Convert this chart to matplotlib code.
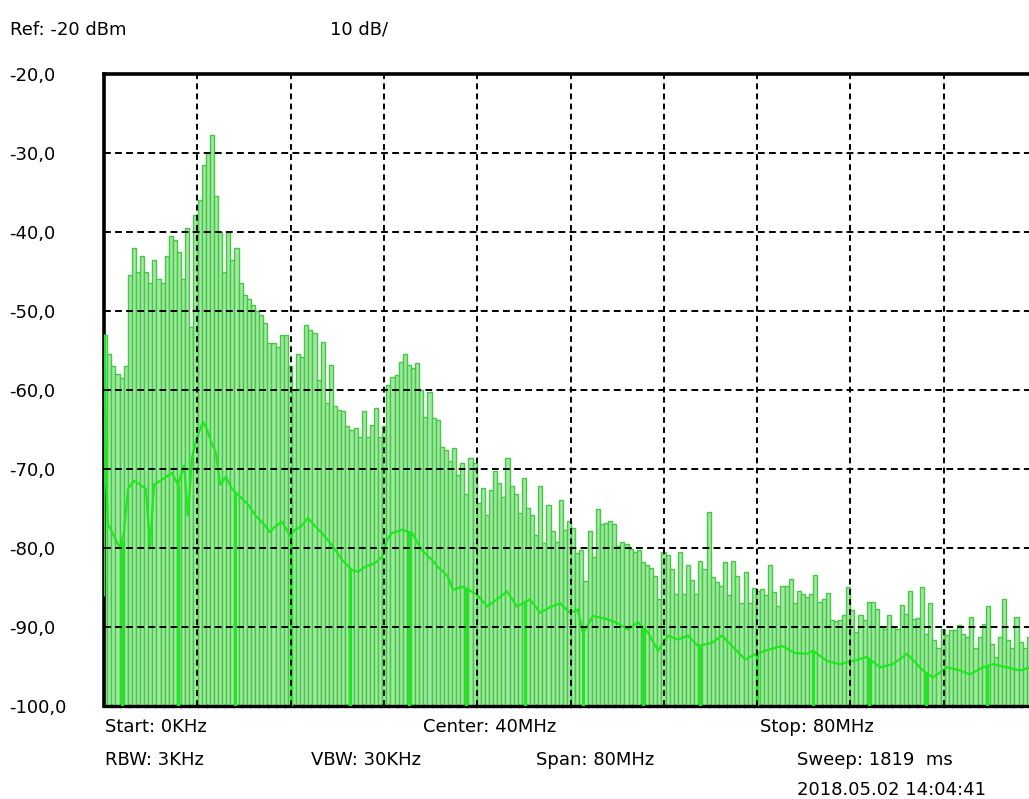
import numpy as np
import matplotlib
matplotlib.use("Agg")
import matplotlib.pyplot as plt

# ---- data ----
peak_db = [
    -53, -55.5, -57, -58, -58.5, -57, -45.5, -42, -45, -43, -45, -46.5, -43.5, -46, -46.5,
    -43, -40.5, -41, -42.5, -46, -39.5, -52, -37.8, -36, -31.5, -30, -27.7, -35.5, -40, -45,
    -40, -43.5, -42, -46.5, -48, -48.5, -49.3, -50, -50.5, -51.5, -54, -54, -54.5,
    -53, -53, -57, -60, -55.4, -55.8, -51.8, -52.4, -52.8, -58.7, -53.9, -61.7, -56.8, -62,
    -62.5, -62.7, -64.6, -65, -64.8, -65.9, -62.7, -65.9, -64.4, -62.3, -66, -64.6, -59.4,
    -58.3, -58.1, -56.5, -55.4, -56.8, -57.2, -56.6, -60, -63.4, -60.2, -63.6, -63.8, -67.2,
    -67.6, -69, -67.4,
    -70.7, -69.2, -73.2, -68.6, -69.2, -74.3, -72.4, -75.8, -72.6, -70.3, -71.8, -73.5, -68.6,
    -72.2, -73.2, -75.6, -71.1, -74.9, -75.8, -78.3, -72.2, -79.4, -74.5, -77.9, -79.2, -73.9,
    -77.7, -76.6, -77.5, -80.6, -80.2, -84.2, -77.9, -81.1, -75.1, -77, -76.8, -76.6, -77,
    -79.8, -79.2, -79.5,
    -80.1, -80.5, -80.3, -81.8, -82.2, -82.5, -83.5, -86.5, -80.5, -80.9, -82.6, -85.8, -80.5,
    -85.8, -82.2, -84.1, -85.8, -81.6, -82.6, -75.4, -83.7, -84.3, -84.8, -81.8, -86, -81.6,
    -83.5, -86.9, -83.1, -87, -85, -85.4, -85.2, -86, -82.2, -85.6, -87.3, -84.8, -84.8, -83.9,
    -86.9, -85.4, -85.8,
    -86.2, -85.8, -83.4, -86.8, -86.4, -85.7, -89.1, -89.3, -89.1, -88.5, -84.9, -87.9, -90.6,
    -88.5, -89.1, -86.8, -86.8, -87.7, -90, -90.2, -88.5, -90, -90.2, -87.2, -88.3, -85.5, -89,
    -88.8, -84.9, -90.9, -87, -91.7, -92.6, -90.2, -91, -90.4, -90.4, -89.8, -90.9, -91.3,
    -88.7, -92.6, -91.3, -89.6, -87.4, -92.1, -93.8, -91.3, -86.4, -91.7, -92.6, -88.7, -91.9,
    -92.6, -91.3,
]
peak_start_mhz = 0.1
peak_stop_mhz = 79.3

trace_mhz = [
    0.0, 0.04, 0.17, 0.34, 0.69, 1.03, 1.37, 1.71, 2.06, 2.57, 3.09, 3.60, 3.94, 4.29, 4.80,
    5.32, 5.83, 6.34, 6.86, 7.20, 7.55, 7.97, 8.49, 8.83, 9.17, 9.60, 9.95, 10.46, 10.97,
    11.66, 12.35, 13.03, 13.72, 14.23, 14.66, 15.26, 15.95, 16.38, 16.89, 17.49, 18.26, 18.69,
    19.63, 20.41, 21.26, 21.78, 22.38, 23.24, 23.84, 24.26, 24.69, 25.55, 26.41, 27.27, 28.12,
    28.64, 29.49, 29.92, 30.78, 31.98, 32.84, 33.70, 34.55, 35.41, 36.53, 37.38, 38.24, 39.10,
    39.96, 40.64, 41.07, 41.93, 43.13, 43.98, 44.93, 45.79, 46.64, 47.50, 48.36, 49.21, 50.07,
    50.93, 52.13, 52.99, 53.85, 54.96, 56.07, 56.93, 58.13, 59.25, 60.28, 60.79, 61.99, 63.11,
    64.22, 65.42, 66.53, 67.65, 68.85, 70.22, 71.08, 72.28, 73.39, 74.25, 75.37, 76.22, 77.42,
    78.54, 79.40,
]
trace_db = [
    -86, -53, -70, -77, -78, -79, -80, -78, -72.5, -71.5, -72, -72.5, -80, -72, -71.5,
    -71, -70.5, -72, -69.5, -76, -68.5, -66, -64, -65, -66.5, -68, -72, -71, -72.5,
    -73.5, -74.5, -76, -77, -78, -77.3, -76.7, -78.4, -77.7, -77.3, -76.2, -77.5, -78.1,
    -79.8, -81.5, -82.8, -83, -82.4, -81.9, -81.1, -79, -78.1, -77.7, -78.1, -80.3, -81.5,
    -82.4, -83.6, -85.3, -84.9, -85.9, -87.4, -86.5, -85.5, -87.4, -86.5, -88.2, -87.5, -87,
    -88.2, -87.8, -90.8, -88.6, -89, -89.5, -90.3, -89.4, -90.7, -93, -91.1, -91.6, -91.1,
    -92.4, -92, -91.1, -92.4, -94.1, -93.3, -92.9, -92.4, -93.3, -93.4, -93, -94.3, -94.7,
    -94.3, -93.8, -95.1, -94.7, -93.4, -95.5, -96.4, -95.1, -95.5, -96, -95.1, -94.7, -95.1,
    -95.5, -95.1,
]
dropout_mhz = [1.54, 6.34, 11.23, 16.03, 21.09, 26.15, 31.04, 36.10, 41.07, 46.21,
               51.10, 55.99, 60.79, 65.59, 70.48, 75.71]

y_ticks = [-20, -30, -40, -50, -60, -70, -80, -90, -100]
y_tick_labels = ["-20,0", "-30,0", "-40,0", "-50,0", "-60,0", "-70,0", "-80,0", "-90,0", "-100,0"]
x_grid = [8, 16, 24, 32, 40, 48, 56, 64, 72]

# ---- figure ----
W, H = 1029, 799
fig = plt.figure(figsize=(W / 100, H / 100), dpi=100)
plt.rcParams['font.family'] = ['DejaVu Sans']

ax = fig.add_axes([104 / W, 1 - 706 / H, 933 / W, 632 / H])
ax.set_xlim(0, 80)
ax.set_ylim(-100, -20)

bottom = -100
freqs = np.linspace(peak_start_mhz, peak_stop_mhz, len(peak_db))
step = freqs[1] - freqs[0]
heights = np.array(peak_db) - bottom
ax.bar(freqs, heights, bottom=bottom, width=step, color="#a2e8a2",
       edgecolor="#45c845", linewidth=1.0, align="center", zorder=1)

# bright trace
ax.plot(trace_mhz, trace_db, color="#1ee81e", lw=1.6, zorder=3, solid_joinstyle="miter")
drop_top = np.interp(dropout_mhz, trace_mhz, trace_db)
ax.vlines(dropout_mhz, bottom, drop_top, color="#1ee81e", lw=2.2, zorder=3)

# grid
for gx in x_grid:
    ax.axvline(gx, color="black", lw=1.4, ls=(0, (3, 2.2)), zorder=4)
for gy in y_ticks[1:-1]:
    ax.axhline(gy, color="black", lw=1.4, ls=(0, (3.5, 2.2)), zorder=4)

ax.spines["right"].set_visible(False)
ax.spines["top"].set_linewidth(2.6)
ax.spines["left"].set_linewidth(2.6)
ax.spines["bottom"].set_linewidth(2.4)
ax.spines["bottom"].set_linestyle((0, (2, 0.6)))
for s in ax.spines.values():
    s.set_zorder(2.5)
ax.set_xticks([])
ax.set_yticks([])

fs = 13
def ftext(px, py, s):
    fig.text(px / W, 1 - py / H, s, fontsize=fs, ha="left", va="center", color="black")

# y labels
for v, lab in zip(y_ticks, y_tick_labels):
    py = 74 + (-20 - v) * 7.9 + 2
    ftext(9, py, lab)

ftext(10, 30, "Ref: -20 dBm")
ftext(330, 30, "10 dB/")
ftext(105, 727, "Start: 0KHz")
ftext(423, 727, "Center: 40MHz")
ftext(760, 727, "Stop: 80MHz")
ftext(105, 760, "RBW: 3KHz")
ftext(311, 760, "VBW: 30KHz")
ftext(536, 760, "Span: 80MHz")
ftext(797, 760, "Sweep: 1819  ms")
ftext(797, 790, "2018.05.02 14:04:41")

fig.savefig("out.png", dpi=100)
